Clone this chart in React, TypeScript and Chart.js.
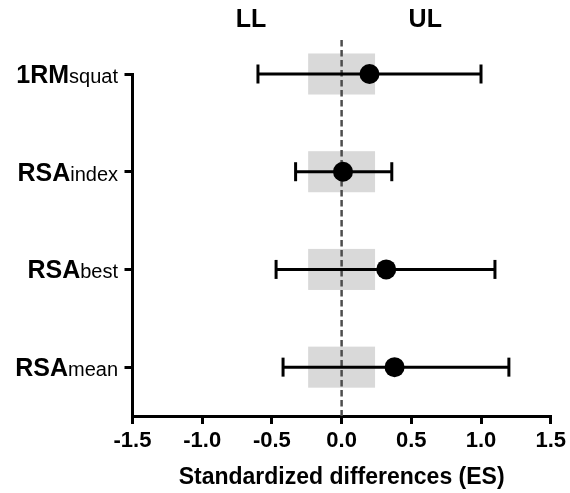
import React, { useEffect, useRef } from 'react';
import { Chart, registerables } from 'chart.js';

Chart.register(...registerables);

const FONT = '"Liberation Sans", Arial, Helvetica, sans-serif';

// Rows (top to bottom)
const rowPositions = [4, 3, 2, 1];
const labelMain = ['1RM', 'RSA', 'RSA', 'RSA'];
const labelSub = ['squat', 'index', 'best', 'mean'];

// Effect sizes with confidence limits
const effectSizes = [0.2, 0.01, 0.32, 0.38];
const lowerLimits = [-0.6, -0.33, -0.47, -0.42];
const upperLimits = [1.0, 0.36, 1.1, 1.2];

// Axis / annotation values
const xTickValues = [-1.5, -1.0, -0.5, 0.0, 0.5, 1.0, 1.5];
const trivialBand = [-0.24, 0.24];
const bandHalfHeight = 0.21;
const headerLabels = ['LL', 'UL'];
const headerPositions = [-0.65, 0.6];
const xTitle = 'Standardized differences (ES)';

const overlayPlugin = {
  id: 'overlay',
  beforeDatasetsDraw(chart: any) {
    const { ctx, scales } = chart;
    const x = scales.x;
    const y = scales.y;
    ctx.save();
    // trivial band boxes
    ctx.fillStyle = '#d9d9d9';
    rowPositions.forEach((r) => {
      const x0 = x.getPixelForValue(trivialBand[0]);
      const x1 = x.getPixelForValue(trivialBand[1]);
      const y0 = y.getPixelForValue(r + bandHalfHeight);
      const y1 = y.getPixelForValue(r - bandHalfHeight);
      ctx.fillRect(x0, y0, x1 - x0, y1 - y0);
    });
    // dashed zero line
    const zx = x.getPixelForValue(0);
    ctx.strokeStyle = '#4d4d4d';
    ctx.lineWidth = 2.5;
    ctx.setLineDash([6.5, 3.5]);
    ctx.beginPath();
    ctx.moveTo(zx, y.top - 34);
    ctx.lineTo(zx, y.bottom);
    ctx.stroke();
    ctx.restore();
  },
  afterDraw(chart: any) {
    const { ctx, scales } = chart;
    const x = scales.x;
    const y = scales.y;
    ctx.save();
    ctx.fillStyle = '#000';
    // header labels
    ctx.font = `bold 25px ${FONT}`;
    ctx.textAlign = 'center';
    ctx.textBaseline = 'middle';
    headerLabels.forEach((t, i) => {
      ctx.fillText(t, x.getPixelForValue(headerPositions[i]), y.top - 54);
    });
    // row labels with subscripts
    ctx.textBaseline = 'alphabetic';
    ctx.textAlign = 'right';
    const rightX = y.left - 6;
    rowPositions.forEach((r, i) => {
      const py = y.getPixelForValue(r);
      const base = py + 9;
      ctx.font = `20px ${FONT}`;
      const subW = ctx.measureText(labelSub[i]).width;
      ctx.fillText(labelSub[i], rightX, base);
      ctx.font = `bold 25px ${FONT}`;
      ctx.fillText(labelMain[i], rightX - subW, base);
    });
    ctx.restore();
  },
};

export default function App() {
  const canvasRef = useRef<HTMLCanvasElement | null>(null);

  useEffect(() => {
    if (!canvasRef.current) return;
    const errorBarSets = rowPositions.map((r, i) => ({
      type: 'line' as const,
      data: [
        { x: lowerLimits[i], y: r },
        { x: upperLimits[i], y: r },
      ],
      borderColor: '#000',
      borderWidth: 3,
      showLine: true,
      fill: false,
      clip: false,
      pointStyle: 'line' as const,
      pointRotation: 90,
      pointRadius: 9.5,
      pointHoverRadius: 9.5,
      pointBorderWidth: 3,
      pointBorderColor: '#000',
      pointBackgroundColor: '#000',
      order: 2,
    }));
    const chart = new Chart(canvasRef.current, {
      type: 'scatter',
      data: {
        datasets: [
          ...errorBarSets,
          {
            type: 'scatter' as const,
            data: rowPositions.map((r, i) => ({ x: effectSizes[i], y: r })),
            clip: false,
            pointRadius: 10,
            pointHoverRadius: 10,
            pointBackgroundColor: '#000',
            pointBorderWidth: 0,
            order: 1,
          },
        ] as any,
      },
      options: {
        animation: false,
        responsive: true,
        maintainAspectRatio: false,
        layout: { padding: { left: 124, top: 74, right: 16, bottom: 0 } },
        plugins: { legend: { display: false }, tooltip: { enabled: false } },
        events: [],
        scales: {
          x: {
            type: 'linear',
            min: -1.5,
            max: 1.5,
            afterBuildTicks: (s: any) => {
              s.ticks = xTickValues.map((v) => ({ value: v }));
            },
            afterFit: (s: any) => {
              s.height = 77;
            },
            ticks: {
              callback: (v: any) => Number(v).toFixed(1),
              font: { family: FONT, size: 22, weight: 'bold' },
              color: '#000',
              padding: 4,
              maxRotation: 0,
              autoSkip: false,
            },
            grid: {
              drawOnChartArea: false,
              drawTicks: true,
              tickLength: 8,
              lineWidth: 3,
              color: '#000',
            },
            border: { display: true, width: 3, color: '#000' },
            title: {
              display: true,
              text: xTitle,
              font: { family: FONT, size: 23, weight: 'bold' },
              color: '#000',
              padding: { top: 0, bottom: 2 },
            },
          },
          y: {
            type: 'linear',
            min: 0.5,
            max: 4,
            afterBuildTicks: (s: any) => {
              s.ticks = rowPositions.map((v) => ({ value: v }));
            },
            afterFit: (s: any) => {
              s.width = 8.5;
            },
            ticks: { display: false },
            grid: {
              drawOnChartArea: false,
              drawTicks: true,
              tickLength: 8,
              lineWidth: 3,
              color: '#000',
            },
            border: { display: true, width: 3, color: '#000' },
          },
        },
      } as any,
      plugins: [overlayPlugin],
    });
    return () => chart.destroy();
  }, []);

  return (
    <div style={{ position: 'fixed', left: 0, top: 0, width: 570, height: 493, background: '#fff' }}>
      <canvas ref={canvasRef} />
    </div>
  );
}
